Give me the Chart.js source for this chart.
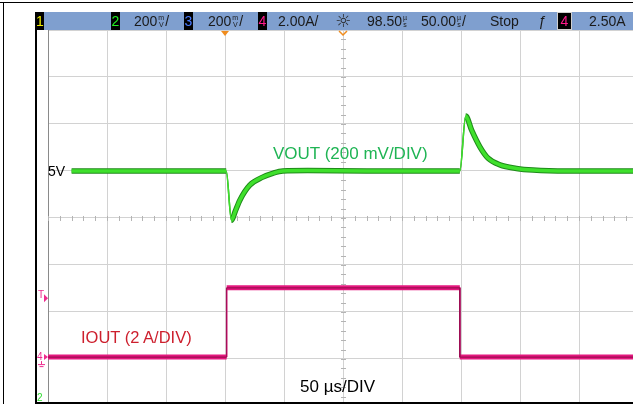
<!DOCTYPE html>
<html>
<head>
<meta charset="utf-8">
<script src="https://cdn.jsdelivr.net/npm/chart.js@4.4.0/dist/chart.umd.min.js"></script>
<style>
    html, body { margin: 0; padding: 0; background: #fff; }
    #wrap { position: relative; width: 633px; height: 404px; overflow: hidden; font-family: "Liberation Sans", Arial, sans-serif; }
    canvas { position: absolute; left: 0; top: 0; }
    .ln { position: absolute; background: #000; }
    #hdr { position: absolute; left: 36px; top: 12px; width: 597px; height: 18px; background: #7f9fcf; }
    .h { position: absolute; top: 12px; height: 18px; line-height: 18px; font-size: 14px; color: #1a1a1a; white-space: nowrap; }
    .box { position: absolute; top: 12px; height: 18px; line-height: 18px; background: #000; font-size: 14px; text-align: center; }
    .stk { display: inline-block; font-size: 7px; line-height: 7px; vertical-align: -1px; text-align: center; margin: 0 1px; }
    .lbl { position: absolute; white-space: nowrap; line-height: 1; }
</style>
</head>
<body>
<div id="wrap">
    <canvas id="scope" width="633" height="404"></canvas>
    <div class="ln" style="left:0;top:2px;width:633px;height:1px;"></div>
    <div class="ln" style="left:3px;top:2px;width:1px;height:402px;"></div>
    <div class="ln" style="left:35px;top:12px;width:2px;height:392px;"></div>
    <div class="ln" style="left:35px;top:402px;width:598px;height:2px;"></div>

    <div id="hdr"></div>
    <div class="box" style="left:36px;width:8px;color:#f0f000;">1</div>
    <div class="box" style="left:111px;width:9px;color:#22ee22;">2</div>
    <div class="h" style="left:134px;">200<span class="stk">m<br>V</span>/</div>
    <div class="box" style="left:184px;width:9px;color:#4a7bff;">3</div>
    <div class="h" style="left:208px;">200<span class="stk">m<br>V</span>/</div>
    <div class="box" style="left:258px;width:9px;color:#ff1a8c;">4</div>
    <div class="h" style="left:278px;">2.00A/</div>
    <div class="h" style="left:335px;font-size:18px;color:#2a2a2a;font-family:'DejaVu Sans',sans-serif;">☼</div>
    <div class="h" style="left:367px;">98.50<span class="stk">µ<br>s</span></div>
    <div class="h" style="left:421px;">50.00<span class="stk">µ<br>s</span>/</div>
    <div class="h" style="left:490px;">Stop</div>
    <div class="h" style="left:538px;font-style:italic;">ƒ</div>
    <div class="box" style="left:557px;width:13px;height:16px;top:12px;line-height:16px;border:1px solid #d0d0d0;color:#ff1a8c;">4</div>
    <div class="h" style="left:589px;">2.50A</div>

    <div class="lbl" style="left:48px;top:164px;font-size:14px;color:#000;">5V</div>
    <div class="lbl" style="left:273px;top:145px;font-size:17px;color:#1fb454;">VOUT (200 mV/DIV)</div>
    <div class="lbl" style="left:81px;top:329px;font-size:16.5px;color:#cd1f2d;">IOUT (2 A/DIV)</div>
    <div class="lbl" style="left:300px;top:378px;font-size:17px;color:#000;">50 µs/DIV</div>
</div>
<script>
    // time in µs relative to the trigger, VOUT in volts, IOUT in amps
    const vTime = [-130, 1, 5.5, 8.5, 12.7, 21, 32, 41, 49, 70, 120, 199, 204, 209, 216, 223, 233, 247, 261, 290, 346];
    const vOut = [5.0, 5.0, 4.79, 4.826, 4.877, 4.94, 4.974, 4.991, 5.0, 5.002, 5.0, 5.0, 5.234, 5.174, 5.103, 5.054, 5.026, 5.011, 5.004, 5.0, 5.0];
    const iTime = [-150, 1.4, 1.4, 199, 199, 346];
    const iOut = [0, 0, 2.95, 2.95, 0, 0];

    const US_PER_DIV = 50;
    const V_PER_DIV = 0.2;
    const V_REF = 5.0;          // 5 V sits one division above centre
    const V_REF_DIV = 1.0;
    const A_PER_DIV = 2;
    const I_ZERO_DIV = -2.96;   // channel 4 ground marker
    const TRIG_LEVEL = 2.5;

    const X_MIN = -150;
    const X_MAX = X_MIN + 9.915 * US_PER_DIV;
    const Y_MAX = 4;
    const Y_MIN = -3.915;

    const vPoints = vTime.map((t, i) => ({ x: t, y: (vOut[i] - V_REF) / V_PER_DIV + V_REF_DIV }));
    const iPoints = iTime.map((t, i) => ({ x: t, y: iOut[i] / A_PER_DIV + I_ZERO_DIV }));

    // thin stroke on the fast edges, thick noisy band elsewhere
    const edgeWidth = (thick, thin) => (ctx) =>
        Math.abs(ctx.p1.y - ctx.p0.y) > 3 * Math.abs(ctx.p1.x - ctx.p0.x) ? thin : thick;

    const trace = (data, color, thick, thin, order, smooth) => ({
        data,
        borderColor: color,
        borderWidth: thick,
        borderJoinStyle: 'round',
        pointRadius: 0,
        tension: 0,
        cubicInterpolationMode: smooth ? 'monotone' : 'default',
        order,
        segment: { borderWidth: edgeWidth(thick, thin) }
    });

    const scopeDecor = {
        id: 'scopeDecor',
        beforeDatasetsDraw(chart) {
            const { ctx, chartArea, scales } = chart;
            const xs = scales.x, ys = scales.y;
            const cx = xs.getPixelForValue(X_MIN + 5 * US_PER_DIV);
            const cy = ys.getPixelForValue(0);
            ctx.save();
            ctx.strokeStyle = '#b4b4b4';
            ctx.lineWidth = 1;
            ctx.beginPath();
            for (let v = X_MIN; v <= X_MAX; v += US_PER_DIV / 5) {
                const px = Math.round(xs.getPixelForValue(v)) + 0.5;
                ctx.moveTo(px, cy - 2);
                ctx.lineTo(px, cy + 3);
            }
            for (let v = Y_MIN; v <= Y_MAX; v += 0.2) {
                const d = Math.round(v * 5) / 5;
                const py = Math.round(ys.getPixelForValue(d)) + 0.5;
                if (py < chartArea.top || py > chartArea.bottom) continue;
                ctx.moveTo(cx - 2, py);
                ctx.lineTo(cx + 3, py);
            }
            ctx.stroke();
            ctx.restore();
        },
        afterDraw(chart) {
            const { ctx, chartArea, scales } = chart;
            const xs = scales.x, ys = scales.y;
            ctx.save();
            // trigger point and screen centre markers
            const tx = xs.getPixelForValue(0);
            ctx.fillStyle = '#f08c1e';
            ctx.beginPath();
            ctx.moveTo(tx - 4, chartArea.top + 1);
            ctx.lineTo(tx + 4, chartArea.top + 1);
            ctx.lineTo(tx, chartArea.top + 6);
            ctx.closePath();
            ctx.fill();
            const mx = xs.getPixelForValue(X_MIN + 5 * US_PER_DIV);
            ctx.strokeStyle = '#f08c1e';
            ctx.lineWidth = 1.5;
            ctx.beginPath();
            ctx.moveTo(mx - 4, chartArea.top + 1);
            ctx.lineTo(mx, chartArea.top + 5);
            ctx.lineTo(mx + 4, chartArea.top + 1);
            ctx.stroke();

            // left edge markers
            ctx.font = '10px "Liberation Sans", Arial, sans-serif';
            ctx.textBaseline = 'middle';
            const ty = ys.getPixelForValue(TRIG_LEVEL / A_PER_DIV + I_ZERO_DIV);
            ctx.fillStyle = '#ee2a8e';
            ctx.fillText('T', 38, ty - 3);
            ctx.beginPath();
            ctx.moveTo(44, ty - 4);
            ctx.lineTo(48, ty);
            ctx.lineTo(44, ty + 4);
            ctx.closePath();
            ctx.fill();
            const gy = ys.getPixelForValue(I_ZERO_DIV);
            ctx.fillText('4', 37, gy);
            ctx.beginPath();
            ctx.moveTo(44, gy - 3);
            ctx.lineTo(48, gy);
            ctx.lineTo(44, gy + 3);
            ctx.closePath();
            ctx.fill();
            ctx.strokeStyle = '#ee2a8e';
            ctx.lineWidth = 1;
            ctx.beginPath();
            ctx.moveTo(41.5, gy + 4); ctx.lineTo(41.5, gy + 7);
            ctx.moveTo(38, gy + 7.5); ctx.lineTo(45, gy + 7.5);
            ctx.moveTo(39.5, gy + 9.5); ctx.lineTo(43.5, gy + 9.5);
            ctx.stroke();
            ctx.fillStyle = '#33dd33';
            ctx.fillText('2', 37, chartArea.bottom - 4);
            ctx.restore();
        }
    };

    new Chart(document.getElementById('scope').getContext('2d'), {
        type: 'line',
        data: {
            datasets: [
                trace(vPoints, '#3fe02c', 3.5, 1.5, 0, true),
                trace(vPoints, '#1f8a1a', 5.5, 1.5, 1, true),
                trace(iPoints, '#9c0e52', 1.2, 1, 2, false),
                trace(iPoints, '#e4177e', 5, 1.5, 3, false)
            ]
        },
        options: {
            responsive: false,
            animation: false,
            layout: { padding: { left: 48, top: 30, right: 0, bottom: 2 } },
            scales: {
                x: {
                    type: 'linear',
                    min: X_MIN,
                    max: X_MAX,
                    afterBuildTicks: (scale) => {
                        const ticks = [];
                        for (let v = X_MIN; v < X_MAX - 1; v += US_PER_DIV) ticks.push({ value: v });
                        scale.ticks = ticks;
                    },
                    ticks: { display: false },
                    grid: { color: '#d2d2d2', lineWidth: 1, drawTicks: false },
                    border: { display: false }
                },
                y: {
                    type: 'linear',
                    min: Y_MIN,
                    max: Y_MAX,
                    afterBuildTicks: (scale) => {
                        const ticks = [];
                        for (let v = Math.ceil(Y_MIN); v <= Y_MAX; v++) ticks.push({ value: v });
                        scale.ticks = ticks;
                    },
                    ticks: { display: false },
                    grid: { color: '#d2d2d2', lineWidth: 1, drawTicks: false },
                    border: { display: true, color: '#8a8a8a', width: 1 }
                }
            },
            plugins: {
                legend: { display: false },
                tooltip: { enabled: false }
            }
        },
        plugins: [scopeDecor]
    });
</script>
</body>
</html>
